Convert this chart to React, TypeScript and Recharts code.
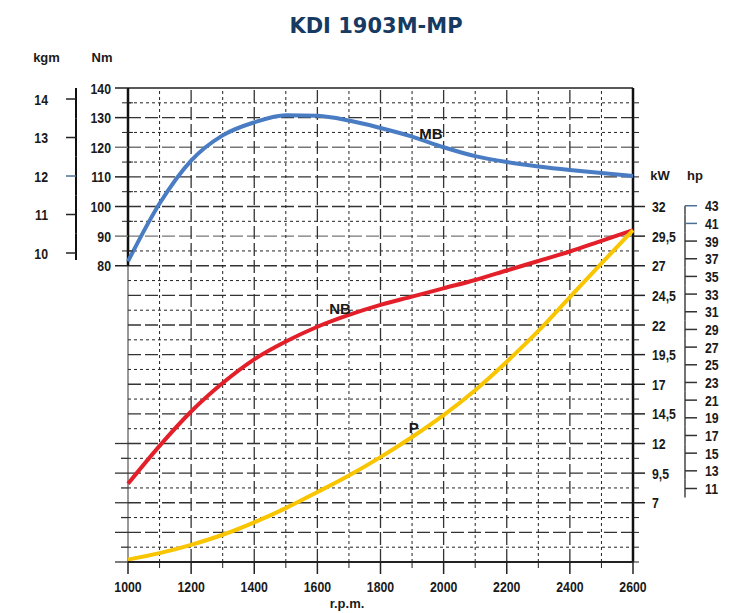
import React from 'react';
import { ComposedChart, Line, XAxis, YAxis, ReferenceLine, ReferenceDot } from 'recharts';

// ---- data ----
const rpm = [1000, 1100, 1200, 1300, 1400, 1500, 1600, 1700, 1800, 1900, 2000, 2100, 2200, 2300, 2400, 2500, 2600];
const torqueMB = [81.5, 101, 115.5, 124, 128.4, 130.8, 130.6, 129, 126.5, 123.6, 120, 117, 115, 113.5, 112.3, 111.3, 110.3];
const powerNB = [8.6, 11.8, 14.7, 17.1, 19.1, 20.6, 21.85, 22.85, 23.7, 24.4, 25.1, 25.8, 26.6, 27.4, 28.2, 29.1, 30.0];
const powerP = [2.2, 2.75, 3.45, 4.3, 5.35, 6.55, 7.9, 9.3, 10.85, 12.55, 14.4, 16.5, 18.9, 21.5, 24.35, 27.2, 30.0];

// ---- ticks ----
const xTicks = [1000, 1100, 1200, 1300, 1400, 1500, 1600, 1700, 1800, 1900, 2000, 2100, 2200, 2300, 2400, 2500, 2600];
const nmLabelTicks = [80, 90, 100, 110, 120, 130, 140];
const nmTicks = [-20, -15, -10, -5, 0, 5, 10, 15, 20, 80, 85, 90, 95, 100, 105, 110, 115, 120, 125, 130, 135, 140];
const kgmTicks = [10, 11, 12, 13, 14];
const kwLabelTicks = [7, 9.5, 12, 14.5, 17, 19.5, 22, 24.5, 27, 29.5, 32];
const kwTicks = [2, 3.25, 4.5, 5.75, 7, 8.25, 9.5, 10.75, 12, 13.25, 14.5, 15.75, 17, 18.25, 19.5, 20.75, 22, 23.25, 24.5, 25.75, 27, 28.25, 29.5, 30.75, 32, 33.25, 34.5, 35.75, 37, 38.25, 39.5, 40.75];
const hpTicks = [11, 13, 15, 17, 19, 21, 23, 25, 27, 29, 31, 33, 35, 37, 39, 41, 43];

// ---- grid ----
const gridMajorNm = [-10, 0, 10, 20, 30, 40, 50, 60, 70, 80, 90, 100, 110, 120, 130];
const gridMinorNm = [-15, -5, 5, 15, 25, 35, 45, 55, 65, 75, 85, 95, 105, 115, 125, 135];
const gridMajorRpm = [1200, 1400, 1600, 1800, 2000, 2200, 2400];
const gridMinorRpm = [1100, 1300, 1500, 1700, 1900, 2100, 2300, 2500];

// ---- domains ----
const nmDomain = [-20, 140];
const kwDomain = [2, 42];
const kgmDomain = [1.974, 14.286];
const hpDomain = [2.682, 56.323];

// axis ids (alphabetical order decides stacking: first = next to the plot)
const NM = 'a_nm';
const KGM = 'b_kgm';
const KW = 'a_kw';
const HP = 'b_hp';

// ---- curve labels ----
const curveLabels = [
  { name: 'MB', rpm: 1960, value: 124.6, axis: NM },
  { name: 'NB', rpm: 1672, value: 23.4, axis: KW },
  { name: 'P', rpm: 1905, value: 13.35, axis: KW },
];

const data = rpm.map((r, i) => ({ rpm: r, mb: torqueMB[i], nb: powerNB[i], p: powerP[i] }));

const LABEL_FONT = "'Liberation Sans', Arial, sans-serif";
const INK = '#1a1a1a';

const NarrowText = ({ x, y, anchor, children }: any) => (
  <text
    transform={`translate(${x} ${y}) scale(0.82 1)`}
    x={0}
    y={0}
    textAnchor={anchor}
    fontFamily={LABEL_FONT}
    fontWeight="bold"
    fontSize={15}
    fill={INK}
  >
    {children}
  </text>
);

const XTick = (props: any) => {
  const { x, y, payload } = props;
  const v = payload.value;
  const major = v % 200 === 0;
  return (
    <g>
      <line x1={x} x2={x} y1={y} y2={y + (major ? 12 : 6)} stroke="#222" strokeWidth={major ? 1.5 : 1} />
      {major && (
        <NarrowText x={x} y={y + 29.5} anchor="middle">
          {v}
        </NarrowText>
      )}
    </g>
  );
};

const NmTick = (props: any) => {
  const { x, y, payload } = props;
  const v = payload.value;
  const labeled = nmLabelTicks.includes(v);
  const major = v % 10 === 0;
  const color = v === 120 || v === 90 ? '#777' : '#222';
  return (
    <g>
      {labeled ? (
        <line x1={x - 13} x2={x} y1={y} y2={y} stroke={color} strokeWidth={1.5} />
      ) : v > 20 ? (
        <line x1={x - 6} x2={x + 5} y1={y} y2={y} stroke="#222" strokeWidth={1} />
      ) : (
        <line x1={x - (major ? 13 : 7)} x2={x} y1={y} y2={y} stroke="#333" strokeWidth={1.3} />
      )}
      {labeled && (
        <NarrowText x={x - 17} y={y + 5.5} anchor="end">
          {v}
        </NarrowText>
      )}
    </g>
  );
};

const KgmTick = (props: any) => {
  const { x, y, payload } = props;
  const v = payload.value;
  const up = v === 14 ? 11 : 19.25;
  const down = v === 10 ? 7 : 19.25;
  return (
    <g>
      <line x1={x} x2={x} y1={y - up} y2={y + down} stroke="#111" strokeWidth={2} />
      <line x1={x - 10} x2={x} y1={y} y2={y} stroke={v === 12 ? '#4d6f96' : '#222'} strokeWidth={1.5} />
      <NarrowText x={x - 28} y={y + 5.5} anchor="end">
        {v}
      </NarrowText>
    </g>
  );
};

const KwTick = (props: any) => {
  const { x, y, payload } = props;
  const v = payload.value;
  const labeled = kwLabelTicks.includes(v);
  return (
    <g>
      <line x1={x} x2={x + (labeled ? 12 : 6)} y1={y} y2={y} stroke="#222" strokeWidth={labeled ? 1.5 : 1} />
      {labeled && (
        <NarrowText x={x + 19} y={y + 5.5} anchor="start">
          {String(v).replace('.', ',')}
        </NarrowText>
      )}
    </g>
  );
};

const HpTick = (props: any) => {
  const { x, y, payload } = props;
  const v = payload.value;
  const up = v === 43 ? 0 : 8.85;
  const down = v === 11 ? 9 : 8.85;
  return (
    <g>
      <line x1={x} x2={x} y1={y - up} y2={y + down} stroke="#444" strokeWidth={1.5} />
      <line x1={x} x2={x + 12} y1={y} y2={y} stroke={v >= 41 ? '#4d6f96' : '#333'} strokeWidth={1.5} />
      <NarrowText x={x + 20} y={y + 5.5} anchor="start">
        {v}
      </NarrowText>
    </g>
  );
};

export default function App() {
  return (
    <div style={{ position: 'absolute', left: 0, top: 0, width: 744, height: 613, background: '#fff' }}>
      <ComposedChart width={744} height={613} data={data} margin={{ top: 88, right: 0, bottom: 11, left: 0 }}>
        <XAxis
          dataKey="rpm"
          type="number"
          domain={[1000, 2600]}
          ticks={xTicks}
          interval={0}
          height={40}
          tickSize={0}
          tickMargin={0}
          tick={<XTick />}
          axisLine={{ stroke: '#222', strokeWidth: 2 }}
          tickLine={false}
        />
        <YAxis
          yAxisId={NM}
          orientation="left"
          type="number"
          domain={nmDomain}
          ticks={nmTicks}
          interval={0}
          width={52}
          tickSize={0}
          tickMargin={0}
          tick={<NmTick />}
          axisLine={false}
          tickLine={false}
          allowDataOverflow
        />
        <YAxis
          yAxisId={KGM}
          orientation="left"
          type="number"
          domain={kgmDomain}
          ticks={kgmTicks}
          interval={0}
          width={76}
          tickSize={0}
          tickMargin={0}
          tick={<KgmTick />}
          axisLine={false}
          tickLine={false}
          allowDataOverflow
        />
        <YAxis
          yAxisId={KW}
          orientation="right"
          type="number"
          domain={kwDomain}
          ticks={kwTicks}
          interval={0}
          width={52}
          tickSize={0}
          tickMargin={0}
          tick={<KwTick />}
          axisLine={false}
          tickLine={false}
          allowDataOverflow
        />
        <YAxis
          yAxisId={HP}
          orientation="right"
          type="number"
          domain={hpDomain}
          ticks={hpTicks}
          interval={0}
          width={59}
          tickSize={0}
          tickMargin={0}
          tick={<HpTick />}
          axisLine={false}
          tickLine={false}
          allowDataOverflow
        />

        {gridMinorNm.map((v) => (
          <ReferenceLine key={'hn' + v} yAxisId={NM} y={v} stroke="#222" strokeWidth={1} strokeDasharray="3 3" />
        ))}
        {gridMajorNm.map((v) => (
          <ReferenceLine key={'hm' + v} yAxisId={NM} y={v} stroke={v === 120 || v === 90 ? '#777' : '#333'} strokeWidth={1.3} strokeDasharray="13 4" />
        ))}
        {gridMinorRpm.map((v) => (
          <ReferenceLine key={'vn' + v} yAxisId={NM} x={v} stroke="#222" strokeWidth={1} strokeDasharray="3 3" />
        ))}
        {gridMajorRpm.map((v) => (
          <ReferenceLine key={'vm' + v} yAxisId={NM} x={v} stroke="#333" strokeWidth={1.3} strokeDasharray="13 4" />
        ))}

        <ReferenceLine yAxisId={NM} y={140} stroke="#222" strokeWidth={1.5} />
        <ReferenceLine yAxisId={NM} x={1000} stroke="#333" strokeWidth={1} />
        <ReferenceLine yAxisId={NM} segment={[{ x: 1000, y: 80 }, { x: 1000, y: 140 }]} stroke="#111" strokeWidth={2.5} />
        <ReferenceLine yAxisId={NM} x={2600} stroke="#111" strokeWidth={2.5} />

        <Line yAxisId={NM} type="monotone" dataKey="mb" stroke="#4a7cc4" strokeWidth={4} dot={false} activeDot={false} isAnimationActive={false} />
        <Line yAxisId={KW} type="monotone" dataKey="nb" stroke="#e3202a" strokeWidth={4} dot={false} activeDot={false} isAnimationActive={false} />
        <Line yAxisId={KW} type="monotone" dataKey="p" stroke="#f8c500" strokeWidth={4} dot={false} activeDot={false} isAnimationActive={false} />

        {curveLabels.map((l) => (
          <ReferenceDot
            key={l.name}
            yAxisId={l.axis}
            x={l.rpm}
            y={l.value}
            r={0}
            fill="none"
            stroke="none"
            label={{ value: l.name, position: 'center', fontFamily: LABEL_FONT, fontWeight: 'bold', fontSize: 15, fill: INK }}
          />
        ))}
      </ComposedChart>
      <svg width={744} height={613} style={{ position: 'absolute', left: 0, top: 0, pointerEvents: 'none' }}>
        <text x={376} y={33.3} textAnchor="middle" fontFamily="'DejaVu Sans', sans-serif" fontWeight="bold" fontSize={21} fill="#163a61">
          KDI 1903M-MP
        </text>
        <text x={46.5} y={62} textAnchor="middle" fontFamily={LABEL_FONT} fontWeight="bold" fontSize={13} fill={INK}>kgm</text>
        <text x={102} y={62} textAnchor="middle" fontFamily={LABEL_FONT} fontWeight="bold" fontSize={13} fill={INK}>Nm</text>
        <text x={660} y={180} textAnchor="middle" fontFamily={LABEL_FONT} fontWeight="bold" fontSize={13} fill={INK}>kW</text>
        <text x={695} y={180} textAnchor="middle" fontFamily={LABEL_FONT} fontWeight="bold" fontSize={13} fill={INK}>hp</text>
        <text x={347} y={608} textAnchor="middle" fontFamily={LABEL_FONT} fontWeight="bold" fontSize={13} fill={INK}>r.p.m.</text>
      </svg>
    </div>
  );
}
